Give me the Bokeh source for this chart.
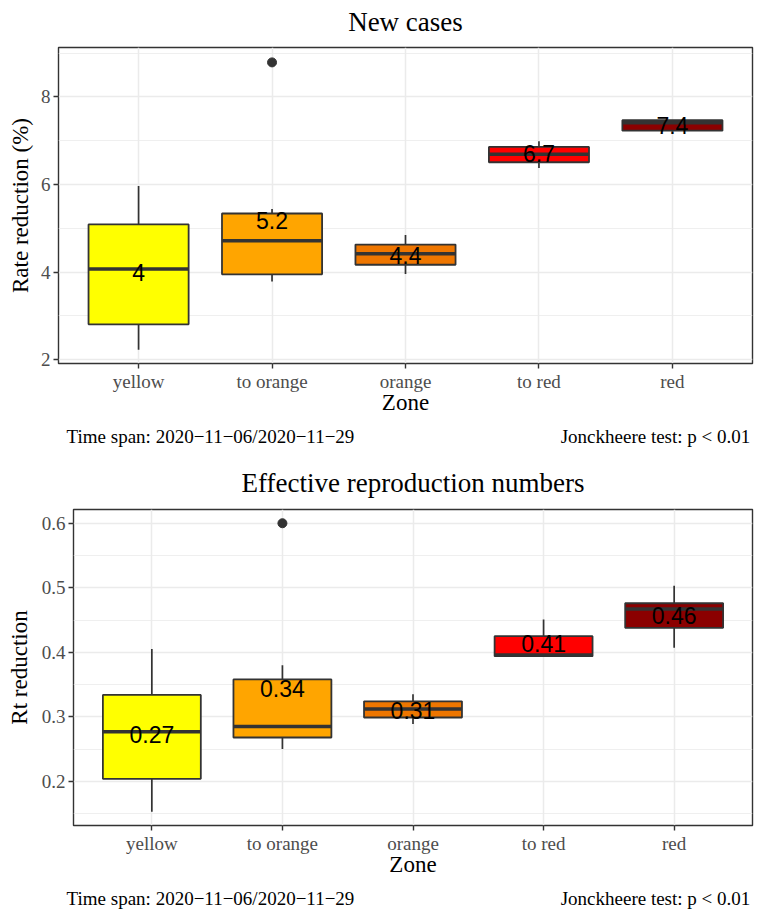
from bokeh.plotting import figure
from bokeh.models import Range1d, FixedTicker, LinearAxis
from bokeh.embed import file_html
from bokeh.resources import INLINE
from bokeh.core.properties import value

# ---------------- data ----------------
zones = ["yellow", "to orange", "orange", "to red", "red"]
zone_colors = ["#FFFF00", "#FFA500", "#EE7600", "#FF0000", "#8B0000"]

# New cases: rate reduction (%)
nc_lower = [2.23, 3.79, 3.96, 6.38, 7.23]
nc_q1 = [2.81, 3.95, 4.17, 6.51, 7.23]
nc_median = [4.07, 4.72, 4.42, 6.69, 7.41]
nc_q3 = [5.09, 5.34, 4.63, 6.86, 7.47]
nc_upper = [5.97, 5.44, 4.85, 6.99, 7.47]
nc_mean = [4.00, 5.18, 4.38, 6.70, 7.36]
nc_labels = ["4", "5.2", "4.4", "6.7", "7.4"]
nc_out_zone = ["to orange"]
nc_out_val = [8.79]

# Effective reproduction numbers: Rt reduction
rt_lower = [0.153, 0.250, 0.289, 0.394, 0.407]
rt_q1 = [0.204, 0.268, 0.299, 0.394, 0.438]
rt_median = [0.277, 0.285, 0.312, 0.396, 0.467]
rt_q3 = [0.334, 0.358, 0.324, 0.425, 0.476]
rt_upper = [0.405, 0.380, 0.335, 0.451, 0.503]
rt_mean = [0.272, 0.344, 0.310, 0.413, 0.457]
rt_labels = ["0.27", "0.34", "0.31", "0.41", "0.46"]
rt_out_zone = ["to orange"]
rt_out_val = [0.600]

caption_left = "Time span: 2020\u221211\u221206/2020\u221211\u221229"
caption_right = "Jonckheere test: p < 0.01"

SERIF = "Liberation Serif"
SANS = "Liberation Sans"
DARK = "#333333"
GRID = "#EBEBEB"
W = 760


def bare_axis(ax):
    ax.axis_line_color = None
    ax.major_tick_line_color = None
    ax.major_tick_out = 0
    ax.major_tick_in = 0
    ax.minor_tick_out = 0
    ax.minor_tick_in = 0


def panel(title, ylabel, lower, q1, median, q3, upper, mean, labels,
          out_zone, out_val, y_lo, y_hi, yticks, yminor,
          b_left, b_top, b_bottom, fig_h, title_standoff, ylab_standoff):
    pos = list(range(1, len(zones) + 1))
    p = figure(width=W, height=fig_h, output_backend="svg", toolbar_location=None,
               x_range=Range1d(0.4, len(zones) + 0.6), y_range=Range1d(y_lo, y_hi),
               min_border_left=b_left, min_border_right=W - 752,
               min_border_top=b_top, min_border_bottom=b_bottom)
    p.title.text = ""
    p.background_fill_color = "white"
    p.border_fill_color = "white"
    p.outline_line_color = DARK
    p.outline_line_width = 1.4

    xax = p.xaxis[0]
    yax = p.yaxis[0]
    xax.ticker = FixedTicker(ticks=pos)
    xax.major_label_overrides = {i: z for i, z in zip(pos, zones)}
    yax.ticker = FixedTicker(ticks=yticks, minor_ticks=yminor)
    for ax in (xax, yax):
        ax.axis_line_color = None
        ax.major_tick_line_color = DARK
        ax.major_tick_line_width = 1.4
        ax.major_tick_out = 5
        ax.major_tick_in = 0
        ax.minor_tick_out = 0
        ax.minor_tick_in = 0
        ax.major_label_text_font = SERIF
        ax.major_label_text_font_size = "19px"
        ax.major_label_text_color = "#4D4D4D"
        ax.major_label_standoff = 3
        ax.axis_label_text_font = SERIF
        ax.axis_label_text_font_size = "23px"
        ax.axis_label_text_font_style = "normal"
        ax.axis_label_text_color = "black"
    xax.major_label_standoff = 2
    xax.axis_label = "Zone"
    xax.axis_label_standoff = -5
    yax.axis_label = ylabel
    yax.axis_label_standoff = ylab_standoff

    # panel title, centred above the frame
    top = LinearAxis(ticker=FixedTicker(ticks=[]), axis_label=title)
    bare_axis(top)
    top.major_label_standoff = 0
    top.axis_label_standoff = title_standoff
    top.axis_label_text_font = SERIF
    top.axis_label_text_font_size = "27px"
    top.axis_label_text_font_style = "normal"
    top.axis_label_text_color = "black"
    p.add_layout(top, "above")

    # caption axis (two footnotes under the panel), positioned in canvas pixels
    p.extra_x_ranges = {"cap": Range1d(b_left, 752)}
    cap_left_center = 210
    cap_right_center = 655
    cap = LinearAxis(x_range_name="cap",
                     ticker=FixedTicker(ticks=[cap_left_center, cap_right_center]),
                     major_label_overrides={cap_left_center: caption_left,
                                            cap_right_center: caption_right})
    bare_axis(cap)
    cap.major_label_text_font = SERIF
    cap.major_label_text_font_size = "19px"
    cap.major_label_text_color = "black"
    cap.major_label_standoff = 8
    p.add_layout(cap, "below")

    p.xgrid.ticker = FixedTicker(ticks=pos)
    p.xgrid.grid_line_color = GRID
    p.xgrid.grid_line_width = 1.5
    p.ygrid.grid_line_color = GRID
    p.ygrid.grid_line_width = 1.5
    p.ygrid.minor_grid_line_color = GRID
    p.ygrid.minor_grid_line_width = 0.8

    # whiskers
    p.segment(x0=pos, y0=q3, x1=pos, y1=upper, line_color=DARK, line_width=1.7)
    p.segment(x0=pos, y0=q1, x1=pos, y1=lower, line_color=DARK, line_width=1.7)
    # boxes
    p.vbar(x=pos, width=0.75, bottom=q1, top=q3, fill_color=zone_colors,
           line_color=DARK, line_width=1.8)
    # medians
    p.segment(x0=[x - 0.375 for x in pos], y0=median,
              x1=[x + 0.375 for x in pos], y1=median,
              line_color=DARK, line_width=3.5, line_cap="butt")
    # outliers
    p.scatter(x=[zones.index(z) + 1 for z in out_zone], y=out_val, size=9,
              fill_color=DARK, line_color=DARK)
    # mean labels
    p.text(x=pos, y=mean, text=labels, text_font=value(SANS),
           text_font_size="23px", text_align="center", text_baseline="middle",
           text_color="black")
    return p


p1 = panel("New cases", "Rate reduction (%)", nc_lower, nc_q1, nc_median, nc_q3, nc_upper,
           nc_mean, nc_labels, nc_out_zone, nc_out_val, 1.915, 9.13,
           [2, 4, 6, 8], [3, 5, 7, 9], 58, 47, 97, 460, 11, 5)
p2 = panel("Effective reproduction numbers", "Rt reduction", rt_lower, rt_q1, rt_median,
           rt_q3, rt_upper, rt_mean, rt_labels, rt_out_zone, rt_out_val, 0.1316, 0.6213,
           [0.2, 0.3, 0.4, 0.5, 0.6], [0.15, 0.25, 0.35, 0.45, 0.55], 73, 49, 90, 455, 12, 7)

open("out.html", "w").write(file_html([p1, p2], INLINE))
